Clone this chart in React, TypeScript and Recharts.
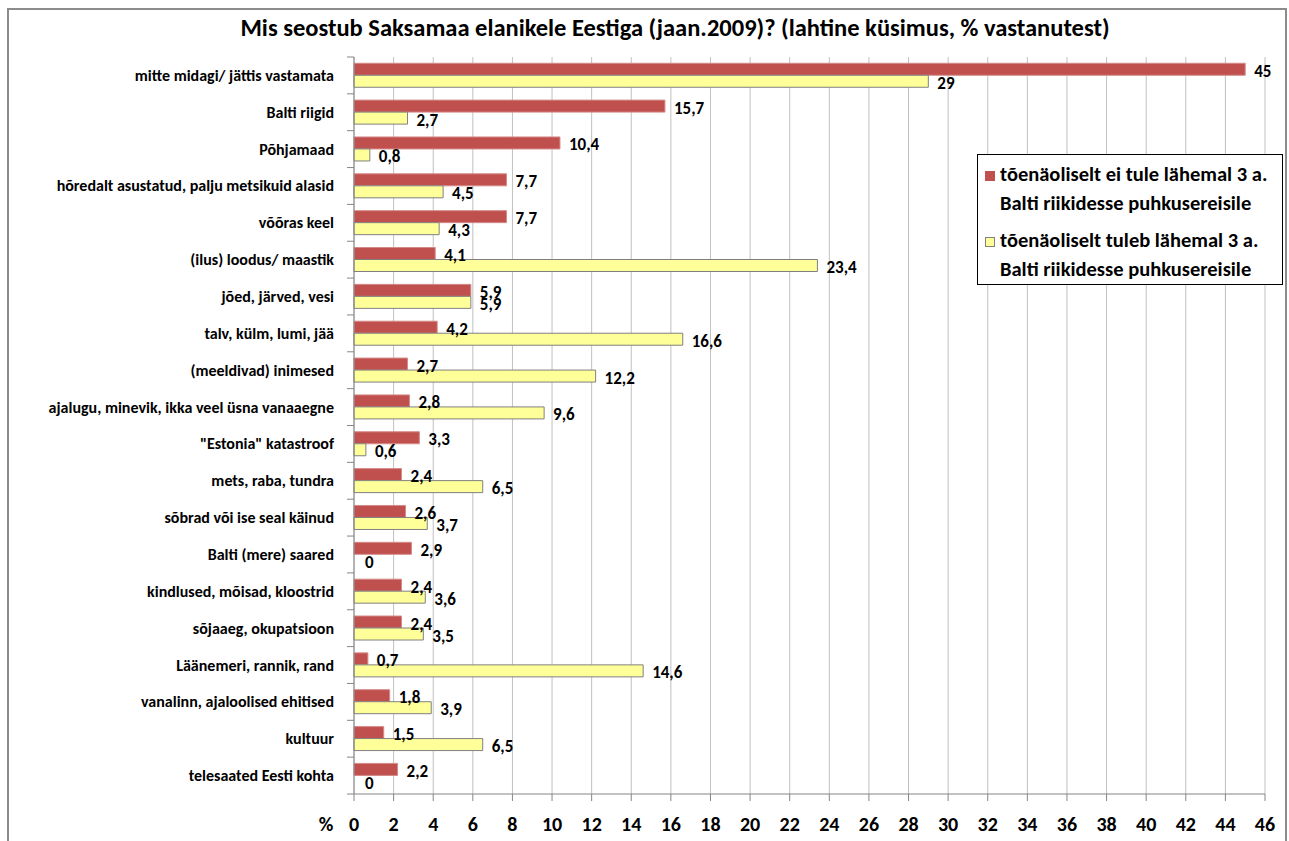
import { BarChart, Bar, XAxis, YAxis, CartesianGrid, LabelList, Rectangle } from 'recharts'

const categories = [
  'mitte midagi/ jättis vastamata',
  'Balti riigid',
  'Põhjamaad',
  'hõredalt asustatud, palju metsikuid alasid',
  'võõras keel',
  '(ilus) loodus/  maastik',
  'jõed, järved, vesi',
  'talv, külm, lumi, jää',
  '(meeldivad) inimesed',
  'ajalugu,  minevik, ikka  veel üsna vanaaegne',
  '"Estonia" katastroof',
  'mets, raba, tundra',
  'sõbrad või ise seal käinud',
  'Balti (mere) saared',
  'kindlused, mõisad, kloostrid',
  'sõjaaeg, okupatsioon',
  'Läänemeri, rannik, rand',
  'vanalinn, ajaloolised  ehitised',
  'kultuur',
  'telesaated Eesti kohta',
]
const notComing = [45, 15.7, 10.4, 7.7, 7.7, 4.1, 5.9, 4.2, 2.7, 2.8, 3.3, 2.4, 2.6, 2.9, 2.4, 2.4, 0.7, 1.8, 1.5, 2.2]
const coming = [29, 2.7, 0.8, 4.5, 4.3, 23.4, 5.9, 16.6, 12.2, 9.6, 0.6, 6.5, 3.7, 0, 3.6, 3.5, 14.6, 3.9, 6.5, 0]
const xTicks = [0, 2, 4, 6, 8, 10, 12, 14, 16, 18, 20, 22, 24, 26, 28, 30, 32, 34, 36, 38, 40, 42, 44, 46]

const seriesNames = {
  no: ['tõenäoliselt ei tule lähemal 3 a.', 'Balti riikidesse puhkusereisile'],
  yes: ['tõenäoliselt tuleb lähemal 3 a.', 'Balti riikidesse puhkusereisile'],
}

const data = categories.map((c, i) => ({ name: c, no: notComing[i], yes: coming[i] }))

const FONT = 'Carlito, Lato, sans-serif'
const PLOT_LEFT = 354
const PLOT_TOP = 57
const PLOT_BOTTOM = 794
const BAND = (PLOT_BOTTOM - PLOT_TOP) / categories.length

const fmt = (v: any) => String(v).replace('.', ',')

function YTick({ y, payload, index }: any) {
  return (
    <g>
      <text x={PLOT_LEFT - 20} y={y} textAnchor="end" dominantBaseline="central" fontSize={16} fontWeight="bold" fill="#000" fontFamily={FONT}>
        {payload.value}
      </text>
      {index === 0 && <line x1={PLOT_LEFT - 7} x2={PLOT_LEFT} y1={y - BAND / 2} y2={y - BAND / 2} stroke="#868686" />}
      <line x1={PLOT_LEFT - 7} x2={PLOT_LEFT} y1={y + BAND / 2} y2={y + BAND / 2} stroke="#868686" />
    </g>
  )
}

function XTick({ x, y, payload }: any) {
  return (
    <g>
      <text x={x} y={y + 28} textAnchor="middle" fontSize={20} fontWeight="bold" fill="#000" fontFamily={FONT}>
        {payload.value}
      </text>
      {payload.value === 0 && (
        <text x={x - 28} y={y + 28} textAnchor="middle" fontSize={20} fontWeight="bold" fill="#000" fontFamily={FONT}>
          %
        </text>
      )}
    </g>
  )
}

function ValueLabel({ x, y, width, height, value }: any) {
  return (
    <text
      x={x + width + (value === 0 ? 11 : 9)}
      y={y + height / 2 + 2}
      dominantBaseline="central"
      fontSize={17}
      fontWeight="bold"
      fill="#000"
      fontFamily={FONT}
    >
      {fmt(value)}
    </text>
  )
}

// zero values keep their label but draw no visible bar
const BarShape = (props: any) => (props.value === 0 || props.width < 1 ? <g /> : <Rectangle {...props} />)

function LegendBox() {
  const row = (color: string, stroke: string, lines: string[]) => (
    <div style={{ position: 'relative', height: 66 }}>
      <div style={{ position: 'absolute', left: 7, top: 11, width: 8, height: 8, background: color, border: `1px solid ${stroke}` }} />
      <div style={{ paddingLeft: 22, lineHeight: '29px' }}>
        {lines.map((l) => (
          <div key={l}>{l}</div>
        ))}
      </div>
    </div>
  )
  return (
    <div
      style={{
        position: 'absolute',
        left: 977,
        top: 154,
        width: 306,
        height: 131,
        border: '1px solid #000',
        background: '#fff',
        fontFamily: FONT,
        fontWeight: 'bold',
        fontSize: 20.5,
        color: '#000',
        boxSizing: 'border-box',
        paddingTop: 5,
        whiteSpace: 'nowrap',
      }}
    >
      {row('#C0504D', '#C0504D', seriesNames.no)}
      {row('#FFFF99', '#808080', seriesNames.yes)}
    </div>
  )
}

export default function App() {
  return (
    <div style={{ position: 'absolute', left: 0, top: 0, width: 1289, height: 841, background: '#fff', overflow: 'hidden' }}>
      <div style={{ position: 'absolute', left: 7, top: 8, width: 1280, height: 900, border: '2px solid #8c8c8c', boxSizing: 'border-box' }} />
      <BarChart
        width={1289}
        height={841}
        data={data}
        layout="vertical"
        margin={{ top: PLOT_TOP, right: 24, bottom: 7, left: 0 }}
        barCategoryGap="17%"
        barGap={0}
        style={{ position: 'absolute', left: 0, top: 0 }}
      >
        <CartesianGrid horizontal={false} stroke="#c0c0c0" />
        <XAxis
          type="number"
          domain={[0, 46]}
          ticks={xTicks}
          interval={0}
          height={40}
          stroke="#868686"
          tickSize={7}
          tick={<XTick />}
        />
        <YAxis type="category" dataKey="name" width={PLOT_LEFT} stroke="#868686" tickLine={false} tick={<YTick />} interval={0} />
        <Bar dataKey="no" fill="#C0504D" stroke="#D48A88" minPointSize={(v: number) => (v === 0 ? 0.01 : 0)} shape={BarShape} isAnimationActive={false}>
          <LabelList dataKey="no" content={<ValueLabel />} />
        </Bar>
        <Bar dataKey="yes" fill="#FFFF99" stroke="#808080" minPointSize={(v: number) => (v === 0 ? 0.01 : 0)} shape={BarShape} isAnimationActive={false}>
          <LabelList dataKey="yes" content={<ValueLabel />} />
        </Bar>
      </BarChart>
      <div
        style={{
          position: 'absolute',
          left: 75,
          top: 13,
          width: 1200,
          textAlign: 'center',
          fontFamily: FONT,
          fontWeight: 'bold',
          fontSize: 24.5,
          color: '#000',
          whiteSpace: 'nowrap',
        }}
      >
        Mis seostub Saksamaa elanikele Eestiga (jaan.2009)? (lahtine küsimus, % vastanutest)
      </div>
      <LegendBox />
    </div>
  )
}
